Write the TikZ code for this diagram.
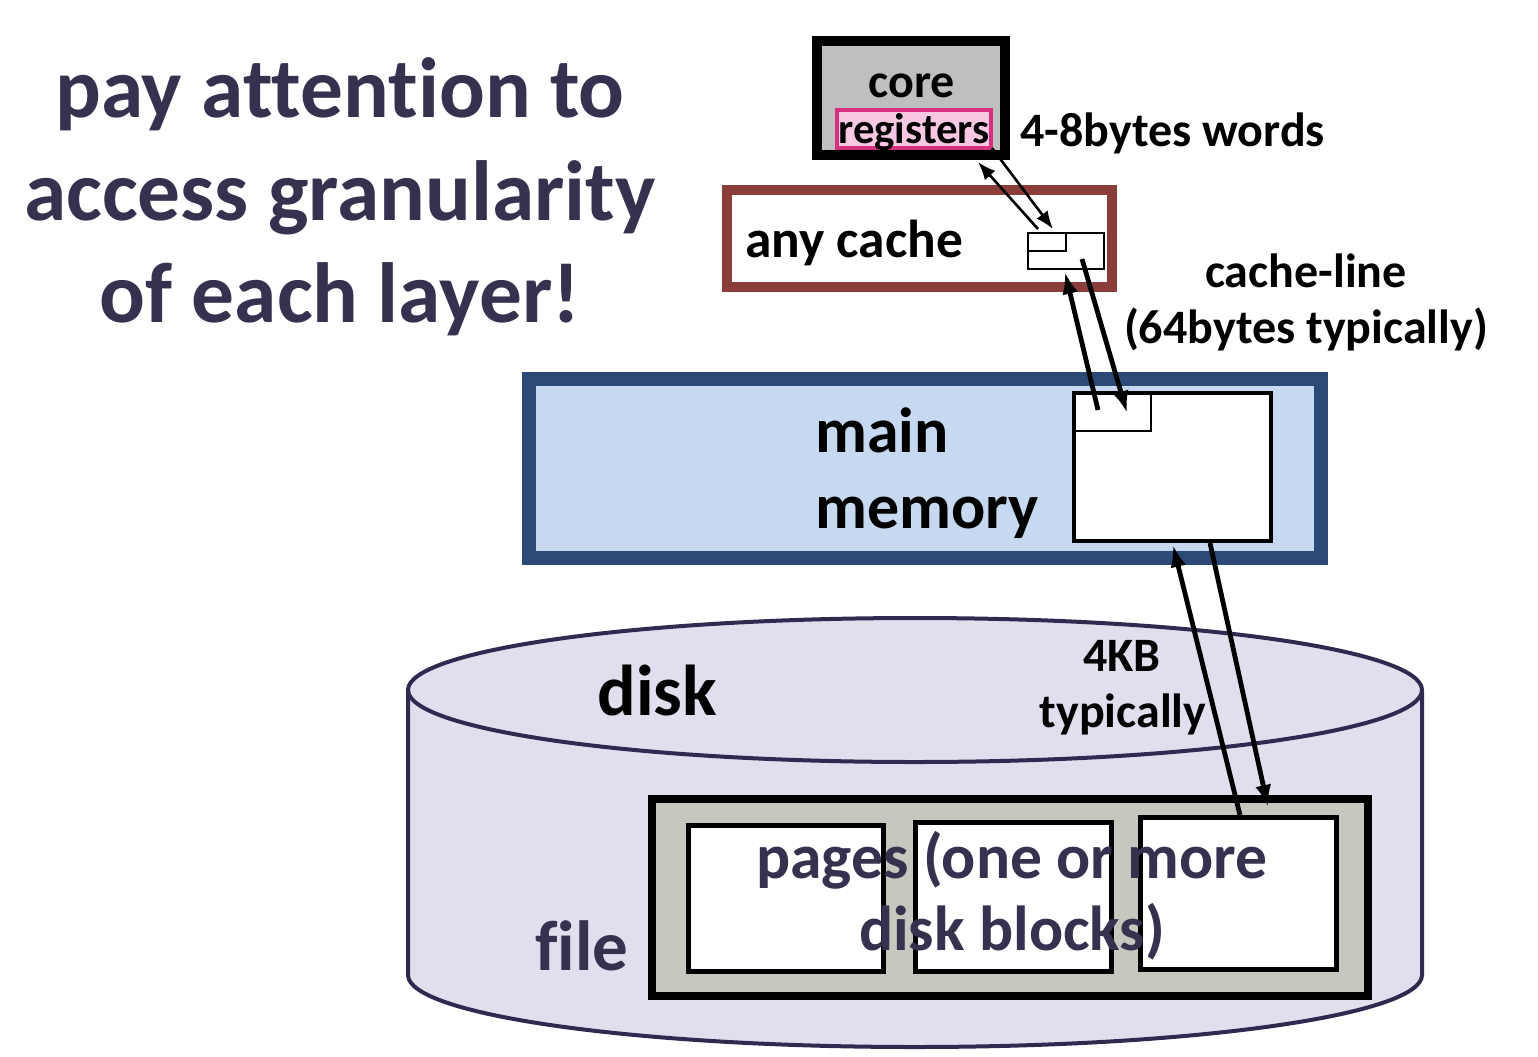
\documentclass[tikz,border=0pt]{standalone}
\usepackage{fontspec}
\setmainfont{Carlito}[Ligatures=CommonOff]
\usetikzlibrary{arrows.meta}
\definecolor{navy}{RGB}{53,50,80}
\definecolor{coregray}{RGB}{191,191,191}
\definecolor{regfill}{RGB}{248,200,226}
\definecolor{regline}{RGB}{214,48,128}
\definecolor{cachered}{RGB}{139,61,58}
\definecolor{memblue}{RGB}{44,74,120}
\definecolor{memfill}{RGB}{198,217,240}
\definecolor{diskfill}{RGB}{224,223,238}
\definecolor{diskline}{RGB}{46,42,80}
\definecolor{filefill}{RGB}{198,199,190}
\begin{document}
\begin{tikzpicture}[x=0.5pt,y=-0.5pt,
  box/.style={draw,inner sep=0pt,outer sep=0pt},
  lbl/.style={inner sep=0pt,font=\bfseries},
  thinarrow/.style={line width=1.3pt,-{Latex[length=9pt,width=7pt]}},
  thickarrow/.style={line width=2.4pt,-{Latex[length=11pt,width=8pt]}}]
\useasboundingbox[fill=white] (0,0) rectangle (1538,1056);
% title
\node[lbl,text=navy,font=\bfseries\fontsize{42.7}{50}\selectfont,anchor=base] (t1) at (340,117) {pay attention to};
\node[lbl,text=navy,font=\bfseries\fontsize{42.7}{50}\selectfont,anchor=base] (t2) at (340,220) {access granularity};
\node[lbl,text=navy,font=\bfseries\fontsize{42.7}{50}\selectfont,anchor=base] (t3) at (340,322) {of each layer!};
% disk cylinder
\fill[diskfill] (408,690) -- (408,975) arc[start angle=180,end angle=360,x radius=253.5pt,y radius=36pt] -- (1422,690) -- cycle;
\fill[diskfill] (915,690) ellipse[x radius=253.5pt,y radius=36pt];
\draw[diskline,line width=2pt] (408,690) -- (408,975) arc[start angle=180,end angle=360,x radius=253.5pt,y radius=36pt] -- (1422,690);
\draw[diskline,line width=2pt] (915,690) ellipse[x radius=253.5pt,y radius=36pt];
\node[lbl,font=\bfseries\fontsize{36}{40}\selectfont,anchor=base west] (disk) at (597,715) {disk};
\node[lbl,text=navy,font=\bfseries\fontsize{35.5}{40}\selectfont,anchor=base west] (file) at (535,970) {file};
% file box and pages
\node[box,fill=filefill,line width=4pt,minimum width=358pt,minimum height=98.5pt] (filebox) at (1010,897.5) {};
\node[box,fill=white,line width=2.5pt,minimum width=97.5pt,minimum height=73pt] (p1) at (786,898.5) {};
\node[box,fill=white,line width=2.5pt,minimum width=98pt,minimum height=74.5pt] (p2) at (1013.5,897) {};
\node[box,fill=white,line width=2.5pt,minimum width=98pt,minimum height=76pt] (p3) at (1238.5,893.5) {};
\node[lbl,text=navy,font=\bfseries\fontsize{31.8}{36}\selectfont,anchor=base] (pg1) at (1012,878) {pages (one or more};
\node[lbl,text=navy,font=\bfseries\fontsize{31.8}{36}\selectfont,anchor=base] (pg2) at (1012,950) {disk blocks)};
% main memory
\node[box,fill=memfill,draw=memblue,line width=7pt,minimum width=396pt,minimum height=89.5pt] (mem) at (925,468.5) {};
\node[box,fill=white,line width=2pt,minimum width=98.5pt,minimum height=74pt] (memin) at (1172.5,467) {};
\node[box,line width=1pt,minimum width=38.5pt,minimum height=19pt] (memsub) at (1112.5,412) {};
\node[lbl,font=\bfseries\fontsize{31.9}{36}\selectfont,anchor=base west] (mainl) at (815,452) {main};
\node[lbl,font=\bfseries\fontsize{31.9}{36}\selectfont,anchor=base west] (memoryl) at (815,528) {memory};
% cache
\node[box,fill=white,draw=cachered,line width=5pt,minimum width=192.5pt,minimum height=48.5pt] (cache) at (919.5,238.5) {};
\node[lbl,font=\bfseries\fontsize{26.7}{30}\selectfont,anchor=base west] (cachel) at (745,257) {any cache};
\node[box,fill=white,line width=1pt,minimum width=38pt,minimum height=18pt] (cachesm) at (1066,251) {};
\node[box,line width=1pt,minimum width=19pt,minimum height=9pt] (cachesub) at (1047,242) {};
% core
\node[box,fill=coregray,line width=5pt,minimum width=94pt,minimum height=57pt] (core) at (911,98) {};
\node[box,fill=regfill,draw=regline,line width=2pt,minimum width=77pt,minimum height=19pt] (reg) at (914,129) {};
\node[lbl,font=\bfseries\fontsize{24}{28}\selectfont,anchor=base] (corel) at (912,97) {core};
\node[lbl,font=\bfseries\fontsize{21.4}{26}\selectfont,anchor=base] (regl) at (914,143) {registers};
% labels
\node[lbl,font=\bfseries\fontsize{24}{28}\selectfont,anchor=base west] (words) at (1020,146) {4-8bytes words};
\node[lbl,font=\bfseries\fontsize{24}{28}\selectfont,anchor=base] (cl1) at (1306,287) {cache-line};
\node[lbl,font=\bfseries\fontsize{24}{28}\selectfont,anchor=base] (cl2) at (1306,343) {(64bytes typically)};
\node[lbl,font=\bfseries\fontsize{24}{28}\selectfont,anchor=base] (kb1) at (1122,671) {4KB};
\node[lbl,font=\bfseries\fontsize{24}{28}\selectfont,anchor=base] (kb2) at (1123,727) {typically};
% arrow end points
\coordinate (a1) at (992,148); \coordinate (a2) at (1053,229);
\coordinate (b1) at (1038,229); \coordinate (b2) at (978,162);
\coordinate (c1) at (1098,410); \coordinate (c2) at (1065,272);
\coordinate (d1) at (1082,259); \coordinate (d2) at (1127,413);
\coordinate (e1) at (1240,815); \coordinate (e2) at (1173,545);
\coordinate (f1) at (1210,543); \coordinate (f2) at (1268,807);
\draw[thinarrow] (a1) -- (a2);
\draw[thinarrow] (b1) -- (b2);
\draw[thickarrow] (c1) -- (c2);
\draw[thickarrow] (d1) -- (d2);
\draw[thickarrow] (e1) -- (e2);
\draw[thickarrow] (f1) -- (f2);
\end{tikzpicture}
\end{document}
